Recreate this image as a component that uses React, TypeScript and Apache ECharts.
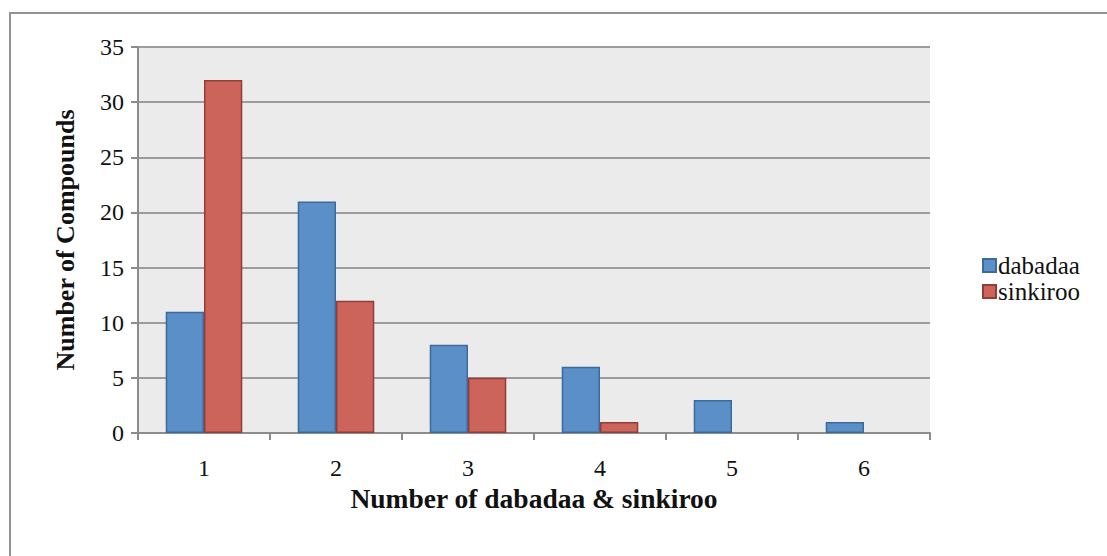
import React, { useEffect, useRef } from "react";
import * as echarts from "echarts";

const categories = ["1", "2", "3", "4", "5", "6"];
const dabadaa = [11, 21, 8, 6, 3, 1];
const sinkiroo = [32, 12, 5, 1, 0, 0];
const seriesNames = ["dabadaa", "sinkiroo"];

const FONT = "Liberation Serif";

// zero-height bars get no outline so they leave no trace on the axis
const toBarData = (values: number[]) =>
  values.map((v) => (v === 0 ? { value: v, itemStyle: { borderWidth: 0 } } : v));

export default function App() {
  const ref = useRef<HTMLDivElement>(null);

  useEffect(() => {
    if (!ref.current) return;
    const chart = echarts.init(ref.current, null, { renderer: "svg" });
    chart.setOption({
      animation: false,
      backgroundColor: "#ffffff",
      textStyle: { fontFamily: FONT },
      graphic: [
        {
          type: "rect",
          shape: { x: 10, y: 13, width: 1120, height: 580 },
          style: { fill: "none", stroke: "#929292", lineWidth: 2 },
          silent: true,
        },
      ],
      grid: { left: 138, top: 47, width: 792, height: 386, containLabel: false },
      legend: {
        orient: "vertical",
        left: 977,
        top: 248,
        itemWidth: 13,
        itemHeight: 13,
        itemGap: 1,
        icon: "rect",
        textStyle: { fontFamily: FONT, fontSize: 25, color: "#111", padding: [0, 0, 0, -3] },
        data: seriesNames,
      },
      xAxis: {
        type: "category",
        data: categories,
        axisLine: { lineStyle: { color: "#8c8c8c", width: 2 } },
        axisTick: { show: true, length: 7, lineStyle: { color: "#8c8c8c", width: 2 } },
        axisLabel: { fontFamily: FONT, fontSize: 24, color: "#111", margin: 23 },
        name: "Number of dabadaa & sinkiroo",
        nameLocation: "middle",
        nameGap: 49,
        nameTextStyle: { fontFamily: FONT, fontSize: 27.5, fontWeight: "bold", color: "#111" },
      },
      yAxis: {
        type: "value",
        min: 0,
        max: 35,
        interval: 5,
        axisLine: { show: true, lineStyle: { color: "#8c8c8c", width: 2 } },
        axisTick: { show: true, length: 7, lineStyle: { color: "#8c8c8c", width: 2 } },
        axisLabel: { fontFamily: FONT, fontSize: 24, color: "#111", margin: 14 },
        splitLine: { show: true, lineStyle: { color: "#9c9c9c", width: 2 } },
        splitArea: { show: true, areaStyle: { color: ["#ebebeb", "#ebebeb"] } },
        name: "Number of Compounds",
        nameLocation: "middle",
        nameGap: 60,
        nameRotate: 90,
        nameTextStyle: { fontFamily: FONT, fontSize: 26, fontWeight: "bold", color: "#111" },
      },
      series: [
        {
          name: seriesNames[0],
          type: "bar",
          data: toBarData(dabadaa),
          barGap: "0%",
          barCategoryGap: "42%",
          itemStyle: { color: "#5a8fc8", borderColor: "#3d6a9c", borderWidth: 1.5 },
        },
        {
          name: seriesNames[1],
          type: "bar",
          data: toBarData(sinkiroo),
          barGap: "0%",
          barCategoryGap: "42%",
          itemStyle: { color: "#cd645b", borderColor: "#953c37", borderWidth: 1.5 },
        },
      ],
    });
    return () => chart.dispose();
  }, []);

  return (
    <div
      ref={ref}
      style={{ position: "absolute", left: 0, top: 0, width: 1107, height: 556 }}
    />
  );
}
